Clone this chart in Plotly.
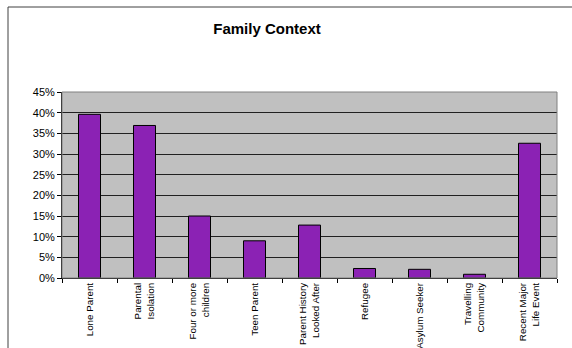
import plotly.graph_objects as go

categories = ["Lone Parent", "Parental<br>Isolation", "Four or more<br>children", "Teen Parent",
              "Parent History<br>Looked After", "Refugee", "Asylum Seeker",
              "Travelling<br>Community", "Recent Major<br>Life Event"]
values = [0.396, 0.369, 0.150, 0.090, 0.128, 0.023, 0.021, 0.009, 0.326]
y_ticks = [0, 0.05, 0.10, 0.15, 0.20, 0.25, 0.30, 0.35, 0.40, 0.45]
y_tick_labels = ["0%", "5%", "10%", "15%", "20%", "25%", "30%", "35%", "40%", "45%"]

W, H = 572, 348
L, R, T, B = 62, 15, 92, 70
pw, ph = W - L - R, H - T - B

fig = go.Figure(go.Bar(
    x=categories, y=values,
    marker=dict(color="#8B22B4", line=dict(color="black", width=1)),
))

fig.update_layout(
    width=W, height=H,
    margin=dict(l=L, r=R, t=T, b=B, autoexpand=False),
    paper_bgcolor="white", plot_bgcolor="#C0C0C0",
    bargap=0.6,
    showlegend=False,
    font=dict(family="Liberation Sans, Arial", color="black", size=10),
    title=dict(text="<b>Family Context</b>", x=267 / W, xanchor="center",
               y=1 - 29 / H, yanchor="middle",
               font=dict(size=15, family="Liberation Sans, Arial", color="black")),
    xaxis=dict(tickangle=-90, tickson="boundaries", ticks="outside", ticklen=4,
               tickcolor="black", showline=True, linecolor="black", linewidth=1,
               tickfont=dict(size=9.8), showgrid=False, automargin=False),
    yaxis=dict(range=[0, 0.45], tickvals=y_ticks, ticktext=y_tick_labels,
               ticks="outside", ticklen=4, tickcolor="black",
               showline=True, linecolor="black", linewidth=1,
               showgrid=True, gridcolor="#202020", gridwidth=1,
               zeroline=False, tickfont=dict(size=11), automargin=False),
    shapes=[
        dict(type="rect", xref="paper", yref="paper", x0=0, x1=1, y0=0, y1=1,
             line=dict(color="#808080", width=1), fillcolor="rgba(0,0,0,0)", layer="above"),
        dict(type="rect", xref="paper", yref="paper",
             x0=(8 - L) / pw, x1=(W + 20 - L) / pw,
             y0=-(H + 20 - T - ph) / ph, y1=(H - 7 - B) / ph,
             line=dict(color="#404040", width=1), fillcolor="rgba(0,0,0,0)"),
    ],
)

fig.write_html("out.html", config={"displayModeBar": False},
               post_script="document.body.style.margin='0';")
